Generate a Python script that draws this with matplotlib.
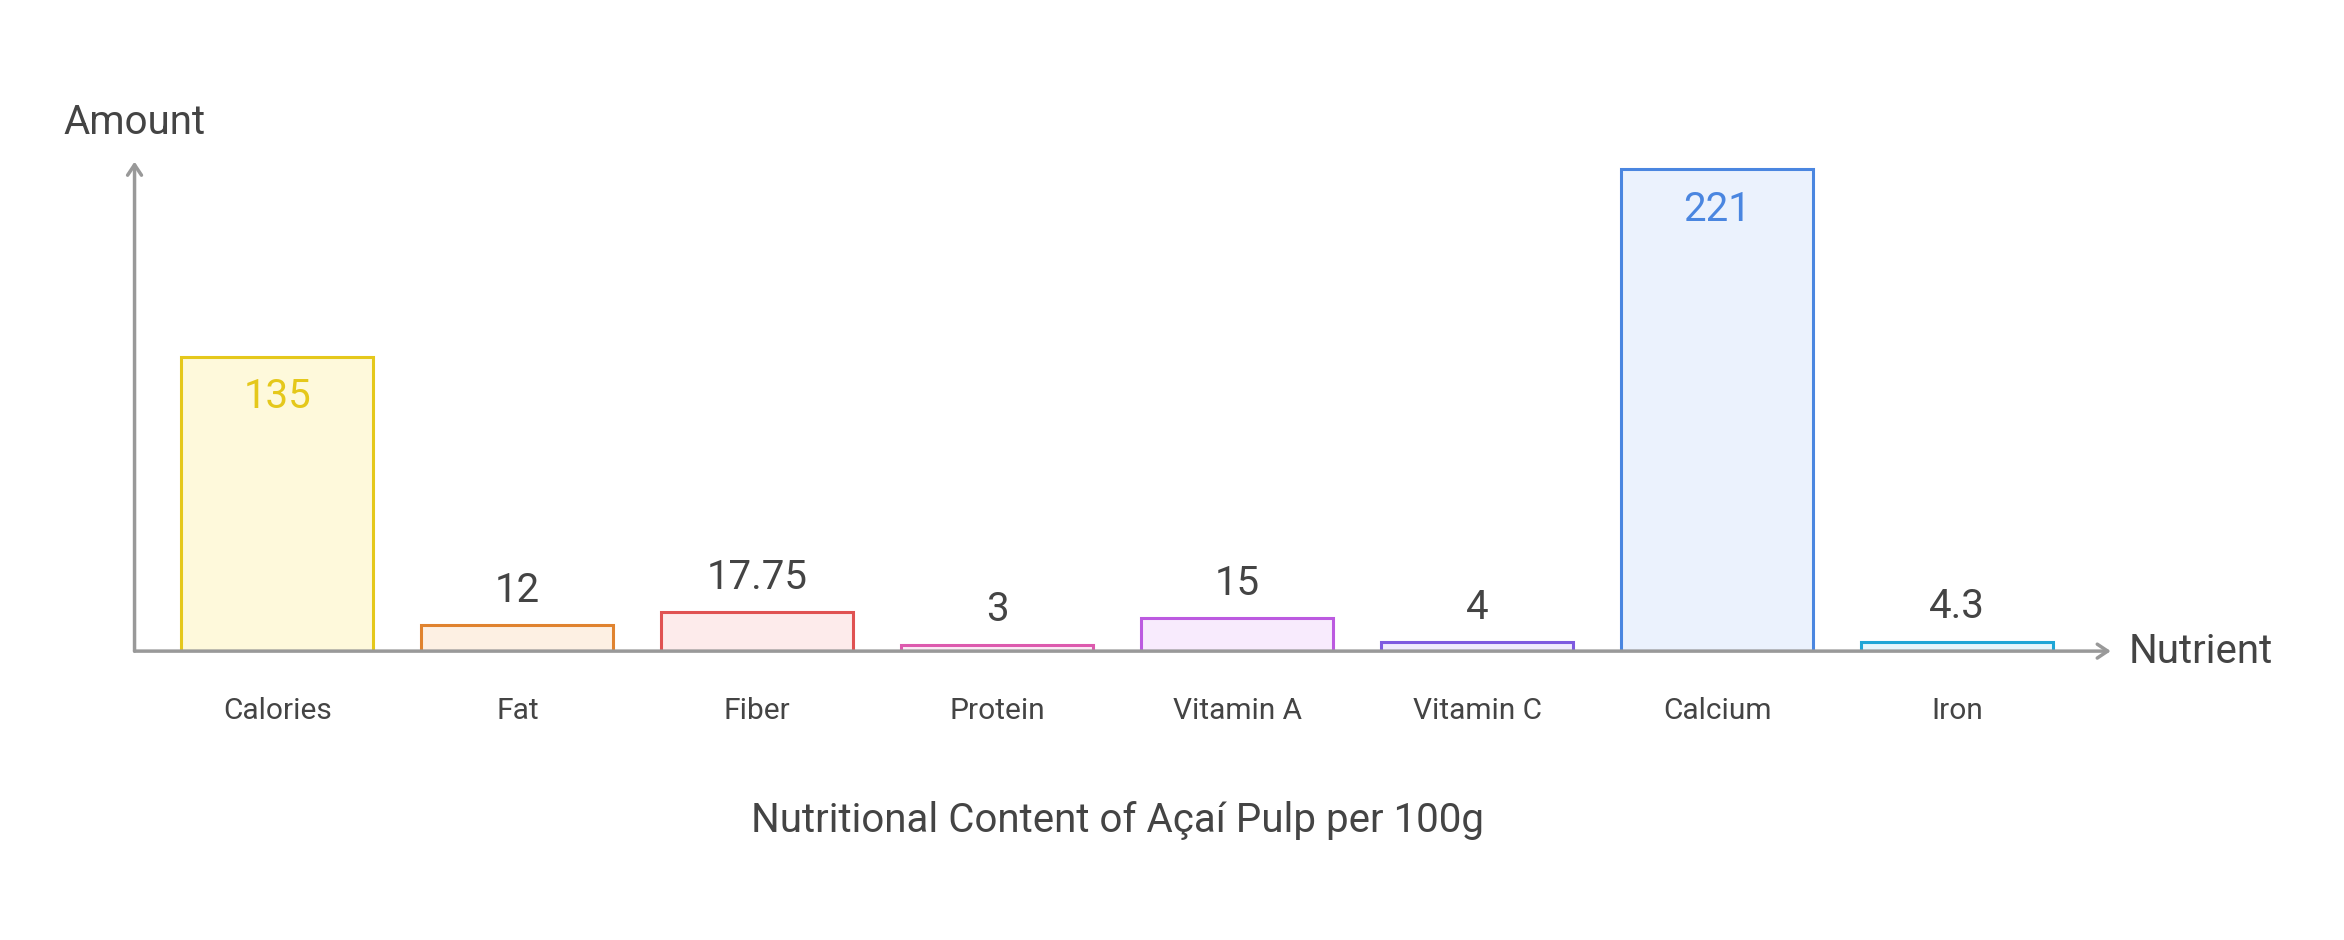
import matplotlib.pyplot as plt

# data
nutrients = ["Calories", "Fat", "Fiber", "Protein", "Vitamin A", "Vitamin C", "Calcium", "Iron"]
amounts = [135, 12, 17.75, 3, 15, 4, 221, 4.3]
value_labels = ["135", "12", "17.75", "3", "15", "4", "221", "4.3"]
edge_colors = ["#E5C81B", "#E0832F", "#E05252", "#DD5AAE", "#BC5AE0", "#7E5AE0", "#4A86E0", "#1FA6D6"]
fill_colors = ["#FEF9DB", "#FDF0E3", "#FDEBEB", "#FCEBF6", "#F8EBFD", "#F0EBFD", "#EBF2FD", "#E6F6FC"]
inside = [True, False, False, False, False, False, True, False]

plt.rcParams['font.family'] = ['Roboto', 'DejaVu Sans']
text_color = "#444444"
axis_color = "#999999"

W, H = 1568, 628  # reference layout measured in these units
fig = plt.figure(figsize=(23.44, 9.4), dpi=100)
ax = fig.add_axes([90 / W, 1 - 435 / H, (1412 - 90) / W, (435 - 108) / H])
ax.set_xlim(-0.595, 7.64)
ax.set_ylim(0, 224.3)
ax.axis("off")

x = list(range(len(nutrients)))
ax.bar(x, amounts, width=0.8, color=fill_colors, edgecolor=edge_colors, linewidth=2.2)

for i, v in enumerate(amounts):
    if inside[i]:
        ax.annotate(value_labels[i], (i, v), xytext=(0, -15), textcoords="offset points",
                    ha="center", va="top", fontsize=29, color=edge_colors[i])
    else:
        ax.annotate(value_labels[i], (i, v), xytext=(0, 11), textcoords="offset points",
                    ha="center", va="bottom", fontsize=29, color=text_color)
    ax.annotate(nutrients[i], (i, 0), xytext=(0, -43), textcoords="offset points",
                ha="center", va="center", fontsize=21.5, color=text_color)

# axes with open arrow heads
arrow = dict(arrowstyle="->,head_length=0.75,head_width=0.5", color=axis_color, lw=2.5,
             shrinkA=0, shrinkB=0)
ax.annotate("", xy=(1, 0), xytext=(0, 0), xycoords="axes fraction", arrowprops=arrow)
ax.annotate("", xy=(0, 1), xytext=(0, 0), xycoords="axes fraction", arrowprops=arrow)

ax.annotate("Amount", (0, 1), xycoords="axes fraction", xytext=(0, 14), textcoords="offset points",
            ha="center", va="bottom", fontsize=29, color=text_color)
ax.annotate("Nutrient", (1, 0), xycoords="axes fraction", xytext=(13, 0), textcoords="offset points",
            ha="left", va="center", fontsize=29, color=text_color)

fig.text(747.5 / W, 1 - 548 / H, "Nutritional Content of Açaí Pulp per 100g",
         ha="center", va="center", fontsize=29, color=text_color)

fig.savefig("out.png", dpi=100, facecolor="white")
